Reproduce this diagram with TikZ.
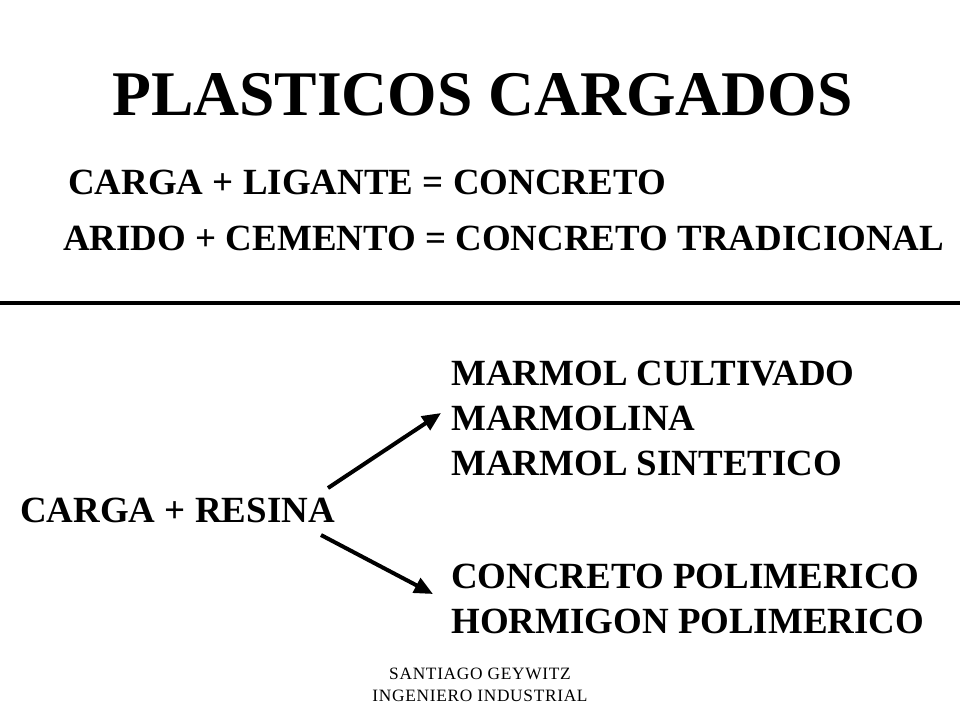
\documentclass[tikz,border=0pt]{standalone}
\usepackage{fontspec}
\setmainfont{Liberation Serif}
\newfontfamily\footfont[LetterSpace=4]{Liberation Serif}
\usetikzlibrary{arrows.meta}
\tikzset{
  txt/.style={anchor=base west, inner sep=0pt, font=\bfseries\fontsize{27.7bp}{34bp}\selectfont},
  titletxt/.style={anchor=base west, inner sep=0pt, font=\bfseries\fontsize{47.7bp}{58bp}\selectfont},
  foot/.style={anchor=base, inner sep=0pt, font=\footfont\fontsize{13bp}{15bp}\selectfont},
  arr/.style={line width=3bp, -{Triangle[length=14bp,width=12bp]}},
  rule/.style={line width=2.4bp}
}
\begin{document}
\begin{tikzpicture}[x=0.75bp, y=-0.75bp]
\useasboundingbox (0,0) rectangle (960,720);
\node[titletxt] (title) at (112,115) {PLASTICOS CARGADOS};
\node[txt] (l1) at (68,194) {CARGA + LIGANTE = CONCRETO};
\node[txt] (l2) at (63,250) {ARIDO + CEMENTO = CONCRETO TRADICIONAL};
\coordinate (rl) at (0,303);
\coordinate (rr) at (960,303);
\draw[rule] (rl) -- (rr);
\node[txt] (m1) at (451,385) {MARMOL CULTIVADO};
\node[txt] (m2) at (451,430) {MARMOLINA};
\node[txt] (m3) at (451,475) {MARMOL SINTETICO};
\node[txt] (cr) at (20,522) {CARGA + RESINA};
\node[txt] (p1) at (451,588) {CONCRETO POLIMERICO};
\node[txt] (p2) at (451,633) {HORMIGON POLIMERICO};
\coordinate (a1s) at (328,488);
\coordinate (a1e) at (441,413);
\coordinate (a2s) at (321,535);
\coordinate (a2e) at (433,594);
\draw[arr] (a1s) -- (a1e);
\draw[arr] (a2s) -- (a2e);
\node[foot] (f1) at (480,679) {SANTIAGO GEYWITZ};
\node[foot] (f2) at (480,701) {INGENIERO INDUSTRIAL};
\end{tikzpicture}
\end{document}
